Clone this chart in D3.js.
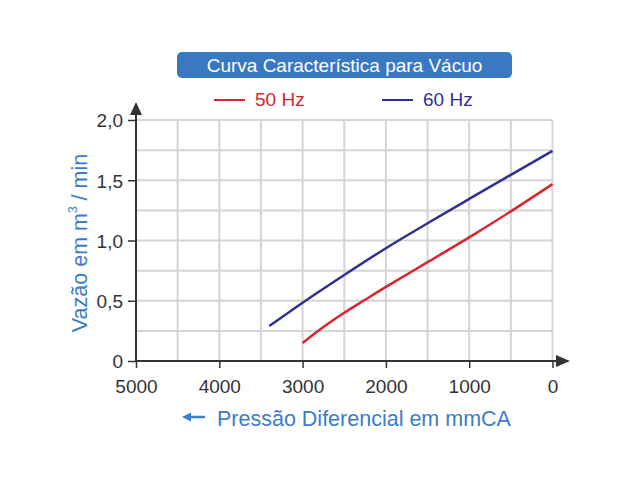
<!DOCTYPE html>
<html>
<head>
<meta charset="utf-8">
<script src="https://cdn.jsdelivr.net/npm/d3@7"></script>
<style>
  body { margin: 0; background: #fff; }
  svg { font-family: "Liberation Sans", Arial, sans-serif; }
</style>
</head>
<body>
<div id="chart"></div>
<script>
// chart values
var pressure50 = [3000, 2750, 2500, 2250, 2000, 1500, 1000, 500, 0];
var flow50 = [0.15, 0.282, 0.40, 0.508, 0.615, 0.82, 1.026, 1.242, 1.468];
var pressure60 = [3400, 3000, 2500, 2000, 1500, 1000, 500, 0];
var flow60 = [0.29, 0.484, 0.714, 0.936, 1.143, 1.345, 1.545, 1.744];
var xTicks = [5000, 4000, 3000, 2000, 1000, 0];
var yTicks = [0, 0.5, 1.0, 1.5, 2.0];
var xGrid = [5000, 4500, 4000, 3500, 3000, 2500, 2000, 1500, 1000, 500, 0];
var yGrid = [0, 0.25, 0.5, 0.75, 1.0, 1.25, 1.5, 1.75, 2.0];
var seriesNames = ["50 Hz", "60 Hz"];

var svgWidth = 640;
var svgHeight = 480;

var svg = d3.select("#chart")
  .append("svg")
  .attr("width", svgWidth)
  .attr("height", svgHeight);

var x = d3.scaleLinear().domain([5000, 0]).range([136, 552.5]);
var y = d3.scaleLinear().domain([0, 2]).range([361, 120]);

var red = "#d7262f";
var navy = "#2e3192";
var labelBlue = "#3b7dc9";

// grid
svg.append("g").selectAll("line")
  .data(xGrid)
  .enter()
  .append("line")
  .attr("x1", d => x(d)).attr("x2", d => x(d))
  .attr("y1", y(0)).attr("y2", y(2))
  .attr("stroke", "#d4d4d4")
  .attr("stroke-width", 2);

svg.append("g").selectAll("line")
  .data(yGrid)
  .enter()
  .append("line")
  .attr("x1", x(5000)).attr("x2", x(0))
  .attr("y1", d => y(d)).attr("y2", d => y(d))
  .attr("stroke", "#d4d4d4")
  .attr("stroke-width", 2);

// axes
var pt = d3.formatLocale({decimal: ",", thousands: ".", grouping: [3], currency: ["", ""]});
var f1 = pt.format(".1f");

var xAxis = svg.append("g")
  .attr("transform", "translate(0," + y(0) + ")")
  .call(d3.axisBottom(x).tickValues(xTicks).tickFormat(d3.format("d")).tickSize(7));

var yAxis = svg.append("g")
  .attr("transform", "translate(" + x(5000) + ",0)")
  .call(d3.axisLeft(y).tickValues(yTicks).tickFormat(d => d === 0 ? "0" : f1(d)).tickSize(8).tickPadding(5));

[xAxis, yAxis].forEach(function(a) {
  a.select(".domain").remove();
  a.selectAll(".tick line").attr("stroke", "#333").attr("stroke-width", 1.5);
  a.selectAll(".tick text")
    .attr("fill", "#333")
    .style("font-size", "19px")
    .style("font-family", "'Liberation Sans', Arial, sans-serif");
});
xAxis.selectAll(".tick text").attr("y", 32).attr("dy", 0);
yAxis.selectAll(".tick text").attr("dy", "0.36em");

// axis lines with arrows
svg.append("line")
  .attr("x1", x(5000)).attr("x2", x(5000))
  .attr("y1", y(0) + 1).attr("y2", 112)
  .attr("stroke", "#333").attr("stroke-width", 2);
svg.append("path")
  .attr("d", "M" + x(5000) + ",102 L" + (x(5000) - 6) + ",115 L" + (x(5000) + 6) + ",115 Z")
  .attr("fill", "#333");

svg.append("line")
  .attr("x1", x(5000) - 1).attr("x2", 560)
  .attr("y1", y(0)).attr("y2", y(0))
  .attr("stroke", "#333").attr("stroke-width", 2);
svg.append("path")
  .attr("d", "M570," + y(0) + " L556," + (y(0) - 6) + " L556," + (y(0) + 6) + " Z")
  .attr("fill", "#333");

// curves
var line = d3.line()
  .x(d => x(d[0]))
  .y(d => y(d[1]))
  .curve(d3.curveCatmullRom.alpha(0.5));

svg.append("path")
  .datum(d3.zip(pressure50, flow50))
  .attr("d", line)
  .attr("fill", "none")
  .attr("stroke", red)
  .attr("stroke-width", 2.5);

svg.append("path")
  .datum(d3.zip(pressure60, flow60))
  .attr("d", line)
  .attr("fill", "none")
  .attr("stroke", navy)
  .attr("stroke-width", 2.5);

// title box
svg.append("rect")
  .attr("x", 177).attr("y", 52)
  .attr("width", 335).attr("height", 26)
  .attr("rx", 5)
  .attr("fill", "#3a78c2");
svg.append("text")
  .attr("x", 344.5).attr("y", 71.5)
  .attr("text-anchor", "middle")
  .attr("fill", "#fff")
  .style("font-size", "19px")
  .text("Curva Característica para Vácuo");

// legend
var legend = svg.append("g");
var legX = [214, 382];
var legCol = [red, navy];
seriesNames.forEach(function(name, i) {
  legend.append("line")
    .attr("x1", legX[i]).attr("x2", legX[i] + 31)
    .attr("y1", 100).attr("y2", 100)
    .attr("stroke", legCol[i]).attr("stroke-width", 2);
  legend.append("text")
    .attr("x", legX[i] + 41).attr("y", 106)
    .attr("fill", legCol[i])
    .style("font-size", "19px")
    .text(name);
});

// y label
var yl = svg.append("text")
  .attr("transform", "translate(87,243) rotate(-90)")
  .attr("text-anchor", "middle")
  .attr("fill", labelBlue)
  .style("font-size", "21.5px");
yl.append("tspan").text("Vazão em m");
yl.append("tspan").attr("dy", -10).style("font-size", "12px").text("3");
yl.append("tspan").attr("dy", 10).text(" / min");

// x label
svg.append("line")
  .attr("x1", 190).attr("x2", 205)
  .attr("y1", 417).attr("y2", 417)
  .attr("stroke", labelBlue).attr("stroke-width", 2.5);
svg.append("path")
  .attr("d", "M182,417 L191,412.5 L191,421.5 Z")
  .attr("fill", labelBlue);
svg.append("text")
  .attr("x", 217).attr("y", 426)
  .attr("fill", labelBlue)
  .style("font-size", "21.5px")
  .text("Pressão Diferencial em mmCA");
</script>
</body>
</html>
